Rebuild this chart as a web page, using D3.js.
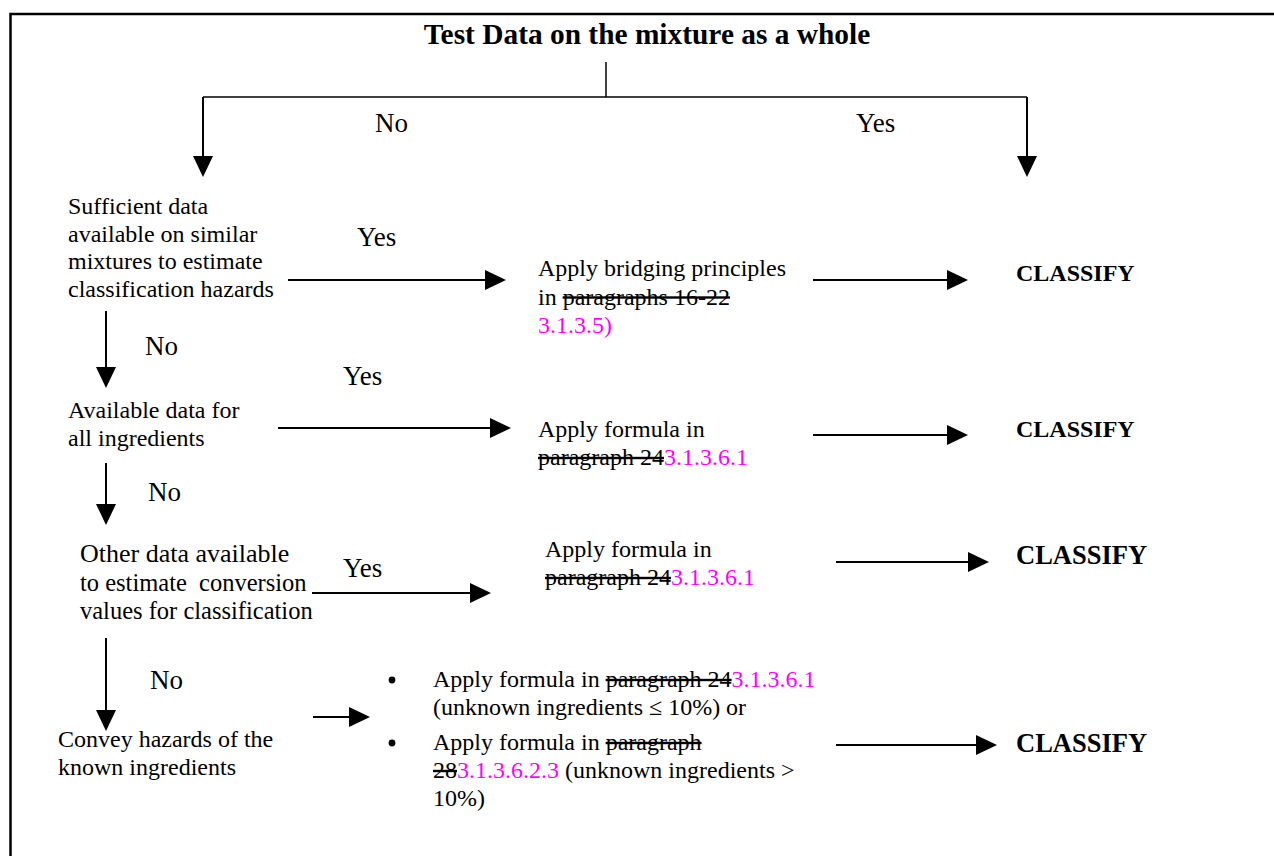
<!DOCTYPE html>
<html>
<head>
<meta charset="utf-8">
<script src="https://cdn.jsdelivr.net/npm/d3@7"></script>
<style>
  body { margin: 0; background: #fff; }
  text { font-family: "Liberation Serif", "Times New Roman", serif; fill: #000; }
  .strike { text-decoration: line-through; }
  .pink { fill: #ff00ff; }
</style>
</head>
<body>
<script>
// content of the flow chart
var title = "Test Data on the mixture as a whole";

var questions = [
    ["Sufficient data", "available on similar", "mixtures to estimate", "classification hazards"],
    ["Available data for", "all ingredients"],
    ["Other data available", "to estimate  conversion", "values for classification"],
    ["Convey hazards of the", "known ingredients"]
];

// each action line is a list of [text, style] segments
var actions = [
    [[["Apply bridging principles", ""]],
     [["in ", ""], ["paragraphs 16-22", "strike"]],
     [["3.1.3.5)", "pink"]]],
    [[["Apply formula in", ""]],
     [["paragraph 24", "strike"], ["3.1.3.6.1", "pink"]]],
    [[["Apply formula in", ""]],
     [["paragraph 24", "strike"], ["3.1.3.6.1", "pink"]]]
];

var bullets = [
    [[["Apply formula in ", ""], ["paragraph 24", "strike"], ["3.1.3.6.1", "pink"]],
     [["(unknown ingredients \u2264 10%) or", ""]]],
    [[["Apply formula in ", ""], ["paragraph", "strike"]],
     [["28", "strike"], ["3.1.3.6.2.3", "pink"], [" (unknown ingredients >", ""]],
     [["10%)", ""]]]
];

var answers = ["No", "Yes"];
var result = "CLASSIFY";

// layout
var width = 1274, height = 856;
var qLayout = [
    { x: 68, y: 214, sizes: [24, 24, 24, 24], lh: 27.6 },
    { x: 68, y: 418, sizes: [24, 24], lh: 28 },
    { x: 80, y: 562, sizes: [26, 24.5, 24.5], lh: 28.6 },
    { x: 58, y: 747, sizes: [24, 24], lh: 28 }
];
var aLayout = [
    { x: 538, y: 276, size: 24, lh: 28.5 },
    { x: 538, y: 437, size: 24, lh: 28 },
    { x: 545, y: 557, size: 24, lh: 28 }
];
var bLayout = [
    { x: 433, y: 687, size: 24, lh: 28 },
    { x: 433, y: 750, size: 24, lh: 28 }
];
var cLayout = [
    { x: 1016, y: 281, size: 24 },
    { x: 1016, y: 437, size: 24 },
    { x: 1016, y: 564, size: 26.5 },
    { x: 1016, y: 752, size: 26.5 }
];

// arrows: [x1, y1, x2, y2]
var arrows = [
    [203, 97, 203, 177], [1027, 97, 1027, 177],
    [288, 280, 506, 280], [813, 280, 968, 280],
    [106, 311, 106, 388],
    [278, 428, 511, 428], [813, 435, 968, 435],
    [106, 463, 106, 525],
    [312, 593, 491, 593], [836, 562, 989, 562],
    [106, 638, 106, 731],
    [313, 717, 370, 717], [836, 745, 997, 745]
];
// labels on the arrows: [answer index, x, y]
var labels = [
    [0, 375, 132], [1, 856, 132],
    [1, 357, 246], [0, 145, 355],
    [1, 343, 385], [0, 148, 501],
    [1, 343, 577], [0, 150, 689]
];

var svg = d3.select("body")
    .append("svg")
    .attr("width", width)
    .attr("height", height);

// frame (top and left edge only visible)
svg.append("path")
    .attr("d", "M" + width + ",14 H10.5 V" + height)
    .attr("fill", "none")
    .attr("stroke", "#000")
    .attr("stroke-width", 2.5);

svg.append("text")
    .attr("x", 647)
    .attr("y", 44)
    .attr("text-anchor", "middle")
    .style("font-weight", "bold")
    .style("font-size", "29.4px")
    .text(title);

// trunk and branch line
svg.append("line")
    .attr("x1", 606).attr("y1", 62).attr("x2", 606).attr("y2", 97)
    .attr("stroke", "#000").attr("stroke-width", 1.5);
svg.append("line")
    .attr("x1", 203).attr("y1", 97).attr("x2", 1027).attr("y2", 97)
    .attr("stroke", "#000").attr("stroke-width", 1.5);

function drawArrow(a) {
    var dx = a[2] - a[0], dy = a[3] - a[1];
    var len = Math.sqrt(dx * dx + dy * dy);
    var ux = dx / len, uy = dy / len;
    var head = 21, half = 10;
    var bx = a[2] - ux * head, by = a[3] - uy * head;
    svg.append("line")
        .attr("x1", a[0]).attr("y1", a[1])
        .attr("x2", bx).attr("y2", by)
        .attr("stroke", "#000")
        .attr("stroke-width", 2);
    svg.append("path")
        .attr("d", "M" + a[2] + "," + a[3] +
            " L" + (bx - uy * half) + "," + (by + ux * half) +
            " L" + (bx + uy * half) + "," + (by - ux * half) + " Z")
        .attr("fill", "#000");
}
arrows.forEach(drawArrow);

svg.selectAll(".label")
    .data(labels)
    .enter().append("text")
    .attr("class", "label")
    .attr("x", function(d) { return d[1]; })
    .attr("y", function(d) { return d[2]; })
    .style("font-size", "27px")
    .text(function(d) { return answers[d[0]]; });

questions.forEach(function(lines, i) {
    var l = qLayout[i];
    var t = svg.append("text")
        .attr("x", l.x).attr("y", l.y)
        .attr("xml:space", "preserve");
    lines.forEach(function(s, j) {
        t.append("tspan")
            .attr("x", l.x)
            .attr("y", l.y + j * l.lh)
            .style("font-size", l.sizes[j] + "px")
            .text(s);
    });
});

function drawSegments(lines, l) {
    var t = svg.append("text")
        .attr("x", l.x).attr("y", l.y)
        .style("font-size", l.size + "px")
        .attr("xml:space", "preserve");
    lines.forEach(function(segs, j) {
        segs.forEach(function(s, k) {
            var ts = t.append("tspan")
                .attr("class", s[1])
                .text(s[0]);
            if (k == 0) ts.attr("x", l.x).attr("y", l.y + j * l.lh);
        });
    });
}

actions.forEach(function(lines, i) { drawSegments(lines, aLayout[i]); });

bullets.forEach(function(lines, i) {
    var l = bLayout[i];
    svg.append("circle")
        .attr("cx", 392)
        .attr("cy", l.y - 7)
        .attr("r", 3.4)
        .attr("fill", "#000");
    drawSegments(lines, l);
});

cLayout.forEach(function(l) {
    svg.append("text")
        .attr("x", l.x).attr("y", l.y)
        .style("font-weight", "bold")
        .style("font-size", l.size + "px")
        .text(result);
});
</script>
</body>
</html>
